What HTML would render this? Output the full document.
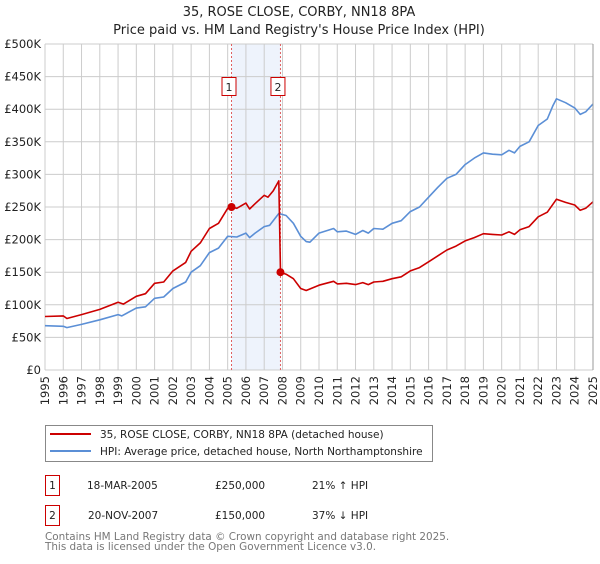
<!DOCTYPE html>
<html><head><meta charset="utf-8"><style>
body{margin:0;background:#fff;font-family:"DejaVu Sans","Liberation Sans",sans-serif;}
svg text{font-family:"DejaVu Sans","Liberation Sans",sans-serif;}
</style></head><body>
<svg id="chart" width="600" height="560" viewBox="0 0 600 560" xmlns="http://www.w3.org/2000/svg">
<text x="299" y="16" font-size="13" text-anchor="middle" fill="#222">35, ROSE CLOSE, CORBY, NN18 8PA</text>
<text x="299" y="34" font-size="13" text-anchor="middle" fill="#222">Price paid vs. HM Land Registry's House Price Index (HPI)</text>
<g id="grid"></g><g id="marks"></g><g id="axes"></g>
<g>
<rect x="45.5" y="425.5" width="387" height="36" fill="#fff" stroke="#888"/>
<line x1="50" y1="434" x2="91" y2="434" stroke="#cc0000" stroke-width="2"/>
<text x="100" y="438" font-size="10.5" fill="#222">35, ROSE CLOSE, CORBY, NN18 8PA (detached house)</text>
<line x1="50" y1="451" x2="91" y2="451" stroke="#5b8fd6" stroke-width="2"/>
<text x="100" y="455" font-size="10.5" fill="#222">HPI: Average price, detached house, North Northamptonshire</text>
</g>
<g font-size="10.5" fill="#222">
<rect x="45.5" y="475.5" width="14" height="20" fill="#fff" stroke="#cc0000"/><text x="52.5" y="489" text-anchor="middle">1</text>
<text x="87" y="489">18-MAR-2005</text><text x="215" y="489">£250,000</text><text x="312" y="489">21% ↑ HPI</text>
<rect x="45.5" y="505.5" width="14" height="20" fill="#fff" stroke="#cc0000"/><text x="52.5" y="519" text-anchor="middle">2</text>
<text x="88" y="519">20-NOV-2007</text><text x="215" y="519">£150,000</text><text x="312" y="519">37% ↓ HPI</text>
</g>
<text x="45" y="540" font-size="10.4" fill="#777">Contains HM Land Registry data © Crown copyright and database right 2025.</text>
<text x="45" y="550" font-size="10.4" fill="#777">This data is licensed under the Open Government Licence v3.0.</text>
</svg>
<script>
const hpiYears=[1995,1996,1996.2,1997,1998,1999,1999.2,2000,2000.5,2001,2001.5,2002,2002.7,2003,2003.5,2004,2004.5,2005,2005.5,2006,2006.2,2006.5,2007,2007.3,2007.8,2008.2,2008.6,2009,2009.3,2009.5,2010,2010.8,2011,2011.5,2012,2012.4,2012.7,2013,2013.5,2014,2014.5,2015,2015.5,2016,2016.5,2017,2017.5,2018,2018.5,2019,2019.5,2020,2020.4,2020.7,2021,2021.5,2022,2022.5,2022.8,2023,2023.5,2024,2024.3,2024.6,2025];
const hpiValues=[68,67,65,70,77,85,83,95,97,110,112,125,135,150,160,180,187,205,204,210,203,210,220,222,240,237,225,205,197,196,210,217,212,213,208,214,210,217,216,225,229,243,250,265,280,294,300,315,325,333,331,330,337,333,343,350,375,385,405,416,410,402,392,396,408];
const propYears=[1995,1996,1996.2,1997,1998,1999,1999.3,2000,2000.5,2001,2001.5,2002,2002.7,2003,2003.5,2004,2004.5,2005,2005.21,2005.5,2006,2006.2,2006.5,2007,2007.2,2007.5,2007.8,2007.89,2008.2,2008.6,2009,2009.3,2010,2010.8,2011,2011.5,2012,2012.4,2012.7,2013,2013.5,2014,2014.5,2015,2015.5,2016,2016.5,2017,2017.5,2018,2018.5,2019,2019.5,2020,2020.4,2020.7,2021,2021.5,2022,2022.5,2022.8,2023,2023.5,2024,2024.3,2024.6,2025];
const propValues=[82,83,79,85,93,104,101,113,117,133,135,152,165,182,195,217,225,248,250,248,256,247,255,268,265,275,290,150,147,140,125,122,130,136,132,133,131,134,131,135,136,140,143,152,157,166,175,184,190,198,203,209,208,207,212,208,215,220,235,242,254,262,257,253,245,248,258];
const saleYears=[2005.21,2007.89];
const saleValues=[250,150];
const saleLabels=["1","2"];
const yTicks=[0,50,100,150,200,250,300,350,400,450,500];
const yTickLabels=["£0","£50K","£100K","£150K","£200K","£250K","£300K","£350K","£400K","£450K","£500K"];
const xTicks=[1995,1996,1997,1998,1999,2000,2001,2002,2003,2004,2005,2006,2007,2008,2009,2010,2011,2012,2013,2014,2015,2016,2017,2018,2019,2020,2021,2022,2023,2024,2025];

const NS="http://www.w3.org/2000/svg";
const L=45,R=593,T=44,B=370;
const xs=y=>L+(y-1995)/30*(R-L);
const ys=v=>B-v/500*(B-T);
function mk(tag,attrs,parent){const e=document.createElementNS(NS,tag);for(const k in attrs)e.setAttribute(k,attrs[k]);parent.appendChild(e);return e;}
const grid=document.getElementById('grid'),marks=document.getElementById('marks'),axes=document.getElementById('axes');
const band=mk('rect',{x:xs(saleYears[0]),y:T,width:xs(saleYears[1])-xs(saleYears[0]),height:B-T,fill:'#eef3fc'},grid);


yTicks.forEach((v,i)=>{
  const ln=mk('line',{x1:L,x2:R,y1:ys(v),y2:ys(v),stroke:'#cccccc','stroke-width':1},grid);
  
  
  const t=mk('text',{x:L-4,y:ys(v)+4,'font-size':11.5,'text-anchor':'end',fill:'#222'},axes);
  t.textContent=yTickLabels[i];
  
  
});
xTicks.forEach(y=>{
  const ln=mk('line',{x1:xs(y),x2:xs(y),y1:T,y2:B,stroke:'#cccccc','stroke-width':1},grid);
  
  
  const t=mk('text',{x:0,y:0,'font-size':11.5,'text-anchor':'end',fill:'#222',transform:`translate(${xs(y)+4},${B+6}) rotate(-90)`},axes);
  t.textContent=String(y);
  
  
});
const rb=mk('line',{x1:R,x2:R,y1:T,y2:B,stroke:'#999','stroke-width':1},axes);


saleYears.forEach((y,i)=>{
  const ln=mk('line',{x1:xs(y),x2:xs(y),y1:T,y2:B,stroke:'#e06060','stroke-width':1,'stroke-dasharray':'2,2'},marks);
  
  
  const r=mk('rect',{x:xs(y)-9.5,y:77.5,width:14,height:18,fill:'#fff',stroke:'#cc0000'},marks);
  
  
  const t=mk('text',{x:xs(y)-2.5,y:91,'font-size':11,'text-anchor':'middle',fill:'#222'},marks);
  t.textContent=saleLabels[i];
  
  
});
function path(xa,va,color,name){
  const d=xa.map((x,i)=>(i?'L':'M')+xs(x).toFixed(1)+','+ys(va[i]).toFixed(1)).join('');
  const p=mk('path',{d,fill:'none',stroke:color,'stroke-width':1.6,'stroke-linejoin':'round'},marks);
  
  
}
path(hpiYears,hpiValues,'#5b8fd6','hpi-line');
path(propYears,propValues,'#cc0000','property-line');
saleYears.forEach((y,i)=>{
  const c=mk('circle',{cx:xs(y),cy:ys(saleValues[i]),r:4,fill:'#cc0000'},marks);
  
  
});
</script>
</body></html>
